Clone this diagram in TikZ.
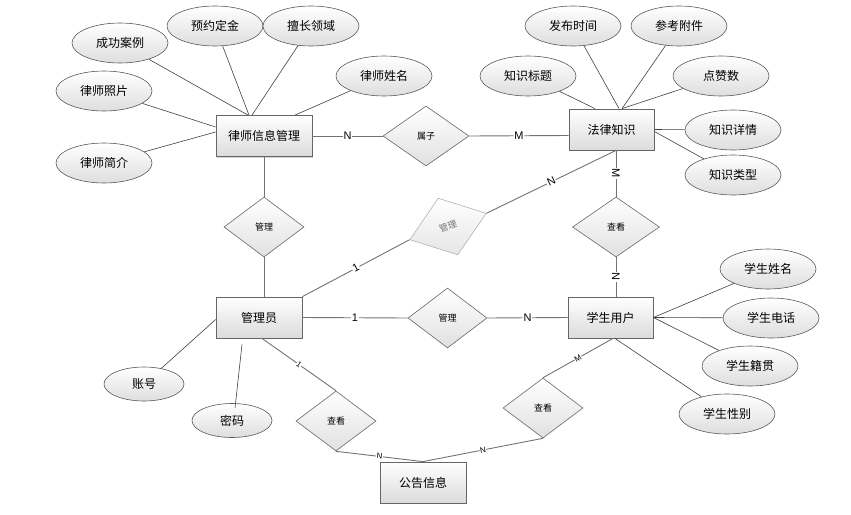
\documentclass[tikz,border=0pt]{standalone}
\usepackage{fontspec}
\setmainfont{Liberation Sans}
\newfontfamily\cjk{Noto Sans CJK SC}
\usetikzlibrary{shapes.geometric,shadows,calc}
\begin{document}
\begin{tikzpicture}[x=1pt,y=-1pt,
  ent/.style={draw=black!60, line width=0.8pt, rectangle, minimum width=#1, minimum height=41pt, inner sep=0pt,
    top color=white, bottom color=black!14,
    drop shadow={shadow xshift=1.2pt, shadow yshift=-1.2pt, opacity=0.35},
    font=\cjk\fontsize{12}{14}\selectfont},
  ent/.default=86pt,
  attr/.style={ellipse, draw=black!65, line width=0.6pt, minimum width=96pt, minimum height=40pt, inner sep=0pt,
    top color=white, bottom color=black!13, font=\cjk\fontsize{12}{14}\selectfont},
  sattr/.style={attr, minimum width=80pt, minimum height=34pt},
  rel/.style={diamond, aspect=1.4, draw=black!60, line width=0.6pt, minimum width=#1, minimum height=60pt, inner sep=0pt,
    top color=white, bottom color=black!12, font=\cjk\fontsize{9}{10}\selectfont},
  rel/.default=80pt,
  conn/.style={draw=black!55, line width=0.9pt},
  att/.style={draw=black!75, line width=0.6pt},
  lab/.style={fill=white, inner sep=0.8pt, font=\fontsize{11}{12}\selectfont, sloped},
  slab/.style={fill=white, inner sep=0.5pt, font=\fontsize{8}{9}\selectfont, sloped}
]
\useasboundingbox (0,0) rectangle (851,514);

% entities
\node[ent=96pt] (law) at (264,136) {律师信息管理};
\node[ent=85pt] (kn) at (611.5,129.5) {法律知识};
\node[ent] (admin) at (259,317.5) {管理员};
\node[ent=85pt] (st) at (610.5,317.5) {学生用户};
\node[ent] (notice) at (423,482.5) {公告信息};

% relationships
\node[rel=86pt] (shuzi) at (426,136) {属子};
\node[rel] (gl1) at (264,227) {管理};
\node[diamond, aspect=1.4, draw=black!30, line width=0.6pt, minimum width=81pt, minimum height=60pt, inner sep=0pt,
  top color=white, bottom color=black!10, text=black!55, font=\cjk\fontsize{9}{10}\selectfont, rotate=19] (gl2) at (448,226.5) {管理};
\node[rel=87pt] (ck1) at (616,227) {查看};
\node[rel=79pt] (gl3) at (447.5,318) {管理};
\node[rel] (ck2) at (336,421) {查看};
\node[rel] (ck3) at (543,408) {查看};

% lawyer attributes
\node[attr] (a1) at (120,43) {成功案例};
\node[attr] (a2) at (215,26) {预约定金};
\node[attr] (a3) at (311,26) {擅长领域};
\node[attr] (a4) at (384,76) {律师姓名};
\node[attr] (a5) at (104,91) {律师照片};
\node[attr] (a6) at (104,163) {律师简介};

% knowledge attributes
\node[attr] (k1) at (573,26) {发布时间};
\node[attr] (k2) at (679,26) {参考附件};
\node[attr] (k3) at (528,76) {知识标题};
\node[attr] (k4) at (721,76) {点赞数};
\node[attr] (k5) at (733,130) {知识详情};
\node[attr] (k6) at (733,175) {知识类型};

% student attributes
\node[attr] (s1) at (768,269) {学生姓名};
\node[attr] (s2) at (771,318) {学生电话};
\node[attr] (s3) at (750,366) {学生籍贯};
\node[attr] (s4) at (727,414) {学生性别};

% admin attributes
\node[sattr] (acc) at (144,384) {账号};
\node[sattr] (pw) at (232,420.5) {密码};

% attribute connectors
\draw[att] (a1) -- ($(law.north)+(-16,0)$);
\draw[att] (a2) -- ($(law.north)+(-15,0)$);
\draw[att] (a3) -- ($(law.north)+(-12,0)$);
\draw[att] (a4) -- ($(law.north)+(31,0)$);
\draw[att] (a5) -- ($(law.west)+(0,-9)$);
\draw[att] (a6) -- ($(law.west)+(0,-4)$);

\draw[att] (k3) -- ($(kn.north)+(-16.5,0)$);
\draw[att] (k1) -- ($(kn.north)+(7.5,0)$);
\draw[att] (k2) -- ($(kn.north)+(10.5,0)$);
\draw[att] (k4) -- ($(kn.north)+(10.5,0)$);
\draw[att] (kn.east) -- (k5);
\draw[att] ($(kn.east)+(0,2)$) -- (k6);

\draw[att] (st.east) -- (s1);
\draw[att] (st.east) -- (s2);
\draw[att] (st.east) -- (s3);
\draw[att] ($(st.south)+(4.5,0)$) -- (s4);

\draw[att] ($(admin.west)+(0,2)$) -- (acc);
\coordinate (pw1) at ($(admin.south)+(-17,6)$);
\draw[att] (pw1) -- ($(pw.north)+(3,5)$);

% relationship connectors
\draw[conn] (law.east) -- node[lab] {N} (shuzi.west);
\draw[conn] (shuzi.east) -- node[lab] {M} ($(kn.west)+(0,6)$);
\draw[conn] (law.south) -- (gl1.north);
\draw[conn] (gl1.south) -- ($(admin.north)+(5,0)$);
\draw[conn] (gl2.west) -- node[lab] {1} (admin.north east);
\draw[conn] (gl2.east) -- node[lab] {N} ($(kn.south)+(4.5,0)$);
\draw[conn] ($(kn.south)+(4.5,0)$) -- node[lab] {M} (ck1.north);
\draw[conn] (ck1.south) -- node[lab] {N} ($(st.north)+(5.5,0)$);
\draw[conn] (admin.east) -- node[lab] {1} (gl3.west);
\draw[conn] (gl3.east) -- node[lab] {N} (st.west);
\draw[conn] ($(admin.south)+(3,0)$) -- node[slab] {1} (ck2.north);
\draw[conn] (ck2.south) -- node[slab] {N} (notice.north);
\draw[conn] (ck3.south) -- node[slab] {N} (notice.north);
\draw[conn] ($(st.south)+(2.5,0)$) -- node[slab] {M} (ck3.north);
\end{tikzpicture}
\end{document}
